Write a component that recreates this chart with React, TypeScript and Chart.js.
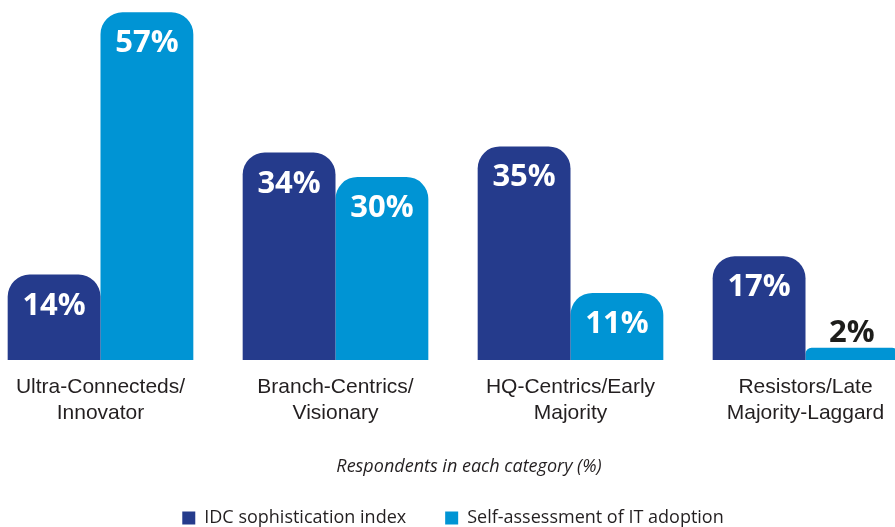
import React, { useEffect, useRef } from "react";
import { Chart, registerables } from "chart.js";

Chart.register(...registerables);

const categories: string[][] = [
  ["Ultra-Connecteds/", "Innovator"],
  ["Branch-Centrics/", "Visionary"],
  ["HQ-Centrics/Early", "Majority"],
  ["Resistors/Late", "Majority-Laggard"],
];
const seriesNames = ["IDC sophistication index", "Self-assessment of IT adoption"];
const idcValues = [14, 34, 35, 17];
const selfValues = [57, 30, 11, 2];
const axisCaption = "Respondents in each category (%)";

const DARK = "#253b8c";
const LIGHT = "#0094d4";
const TEXT = "#231f20";

const valueLabels = {
  id: "valueLabels",
  afterDatasetsDraw(chart: any) {
    const ctx = chart.ctx;
    chart.data.datasets.forEach((ds: any, di: number) => {
      const meta = chart.getDatasetMeta(di);
      meta.data.forEach((bar: any, i: number) => {
        const v = ds.data[i];
        const { x, y, base } = bar.getProps(["x", "y", "base"], true);
        const h = base - y;
        ctx.save();
        ctx.font = '700 31px "Open Sans"';
        ctx.textAlign = "center";
        ctx.textBaseline = "alphabetic";
        if (h > 50) {
          ctx.fillStyle = "#ffffff";
          ctx.fillText(v + "%", x, y + 40);
        } else {
          ctx.fillStyle = "#1d1d1b";
          ctx.fillText(v + "%", x, y - 6);
        }
        ctx.restore();
      });
    });
  },
};

const captionPlugin = {
  id: "captionPlugin",
  afterDraw(chart: any) {
    const ctx = chart.ctx;
    const { left, right } = chart.chartArea;
    ctx.save();
    ctx.font = 'italic 18px "Open Sans"';
    ctx.fillStyle = TEXT;
    ctx.textAlign = "center";
    ctx.textBaseline = "alphabetic";
    ctx.fillText(axisCaption, (left + right) / 2 + 16, 472);
    ctx.restore();
  },
};

export default function App() {
  const ref = useRef<HTMLCanvasElement | null>(null);

  useEffect(() => {
    if (!ref.current) return;
    const chart = new Chart(ref.current, {
      type: "bar",
      data: {
        labels: categories,
        datasets: [
          {
            label: seriesNames[0],
            data: idcValues,
            backgroundColor: DARK,
            borderWidth: 0,
            borderRadius: 22,
            categoryPercentage: 0.79,
            barPercentage: 1.0,
          },
          {
            label: seriesNames[1],
            data: selfValues,
            backgroundColor: LIGHT,
            borderWidth: 0,
            borderRadius: 22,
            categoryPercentage: 0.79,
            barPercentage: 1.0,
          },
        ],
      },
      options: {
        responsive: false,
        animation: false,
        layout: { padding: 0 },
        plugins: {
          legend: {
            position: "bottom",
            labels: {
              boxWidth: 13,
              boxHeight: 13,
              padding: 39,
              color: TEXT,
              font: { family: '"Open Sans"', size: 18 },
            },
          },
          tooltip: { enabled: false },
        },
        scales: {
          x: {
            grid: { display: false, drawTicks: false },
            border: { display: false },
            ticks: {
              padding: 15,
              color: TEXT,
              font: { family: '"Liberation Sans", Arial', size: 21, lineHeight: 1.2 },
              maxRotation: 0,
              autoSkip: false,
            },
            afterFit: (scale: any) => {
              scale.height = 110;
            },
          },
          y: {
            display: false,
            min: 0,
            max: 59,
          },
        },
      },
      plugins: [valueLabels, captionPlugin],
    });
    return () => chart.destroy();
  }, []);

  return (
    <div
      style={{
        position: "fixed",
        left: 0,
        top: 0,
        width: 895,
        height: 527,
        overflow: "hidden",
        background: "#ffffff",
      }}
    >
      <canvas
        ref={ref}
        width={940}
        height={537}
        style={{ position: "absolute", left: -17, top: 0, width: 940, height: 537 }}
      />
    </div>
  );
}
